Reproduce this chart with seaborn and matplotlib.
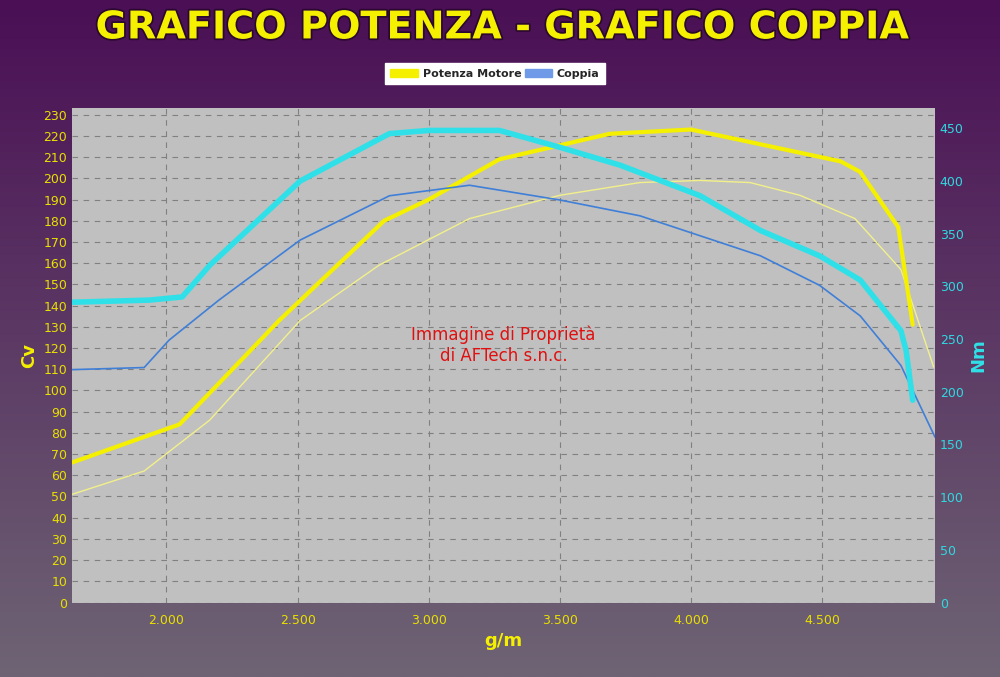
import numpy as np
import pandas as pd
import matplotlib
matplotlib.use("Agg")
import matplotlib.pyplot as plt
import matplotlib.patheffects as pe
import seaborn as sns
from matplotlib.patches import Patch

# power (Cv) - after / before
pw_rpm = [1640, 2050, 2430, 2830, 3000, 3270, 3690, 4000, 4570, 4645, 4790, 4845]
pw_cv = [66, 84, 133, 180, 190, 209, 221, 223, 208, 203, 177, 131]
pw0_rpm = [1640, 1915, 2165, 2510, 2810, 3155, 3500, 3805, 4035, 4225, 4415, 4625, 4800, 4925]
pw0_cv = [51, 62, 86, 133, 159, 181, 192, 198, 199, 198, 192, 181, 157, 111]
# torque (Nm) - after / before
tq_rpm = [1640, 1935, 2060, 2165, 2510, 2850, 3000, 3270, 3500, 3730, 4035, 4265, 4490, 4645, 4800, 4820, 4845]
tq_nm = [285, 287, 290, 320, 400, 445, 448, 448, 432, 415, 386, 353, 329, 306, 258, 239, 192]
tq0_rpm = [1640, 1915, 2010, 2200, 2510, 2850, 3155, 3500, 3805, 4035, 4265, 4490, 4645, 4800, 4930]
tq0_nm = [221, 223, 249, 287, 344, 386, 396, 382, 367, 348, 329, 301, 272, 225, 157]

sns.set_style("white")
fig = plt.figure(figsize=(10, 6.77), dpi=100)
bg = fig.add_axes([0, 0, 1, 1], zorder=-10)
grad = np.linspace(0, 1, 256)[:, None]
cmap = matplotlib.colors.LinearSegmentedColormap.from_list("bg", ["#4a0f55", "#6e6474"])
bg.imshow(grad, aspect="auto", cmap=cmap, extent=[0, 1, 0, 1], origin="upper")
bg.axis("off")

ax = fig.add_axes([0.072, 0.11, 0.863, 0.73])
ax.set_facecolor("#c0c0c0")
ax2 = ax.twinx()

sns.lineplot(x=pw0_rpm, y=pw0_cv, ax=ax, color="#f2f08a", lw=1)
sns.lineplot(x=pw_rpm, y=pw_cv, ax=ax, color="#f5f000", lw=3)
sns.lineplot(x=tq0_rpm, y=tq0_nm, ax=ax2, color="#3f7fd8", lw=1.2)
sns.lineplot(x=tq_rpm, y=tq_nm, ax=ax2, color="#30e0e8", lw=4)

ax.set_xlim(1640, 4930)
ax.set_ylim(0, 233)
ax2.set_ylim(0, 469)
ax.set_yticks(range(0, 231, 10))
ax2.set_yticks(range(0, 451, 50))
ax.set_xticks([2000, 2500, 3000, 3500, 4000, 4500])
ax.set_xticklabels(["2.000", "2.500", "3.000", "3.500", "4.000", "4.500"])
ax.grid(True, color="#808080", ls=(0, (5, 5)), lw=0.8)
ax.tick_params(axis="both", colors="#e8e000", labelsize=9, length=0)
ax.tick_params(axis="x", pad=8)
ax2.tick_params(axis="y", colors="#30d8e0", labelsize=9, length=0)
for s in list(ax.spines.values()) + list(ax2.spines.values()):
    s.set_visible(False)

ax.set_xlabel("g/m", color="#f5f000", fontsize=13, fontweight="bold")
ax.set_ylabel("Cv", color="#f5f000", fontsize=13, fontweight="bold")
ax2.set_ylabel("Nm", color="#30e0e8", fontsize=13, fontweight="bold")

ax.text(0.5, 0.52, "Immagine di Proprietà\ndi AFTech s.n.c.", transform=ax.transAxes,
        ha="center", va="center", color="#e01010", fontsize=12)

fig.text(0.503, 0.958, "GRAFICO POTENZA - GRAFICO COPPIA", ha="center", va="center",
         color="#f5f000", fontsize=27.5, fontweight="bold",
         path_effects=[pe.withStroke(linewidth=2.5, foreground="#2a0830")])
handles = [Patch(color="#f5f000", label="Potenza Motore"), Patch(color="#6f9ae8", label="Coppia")]
leg = fig.legend(handles=handles, loc="center", bbox_to_anchor=(0.495, 0.891), ncol=2,
                 frameon=True, fancybox=False, prop={"weight": "bold", "size": 8},
                 handlelength=2.5, handletextpad=0.4, columnspacing=0.3, borderpad=0.5,
                 borderaxespad=0)
leg.get_frame().set_edgecolor("#ffffff")
leg.get_frame().set_facecolor("#ffffff")
leg.get_frame().set_alpha(1)
# widen legend box to the right like the reference
leg._legend_box.align = "left"

fig.savefig("out.png", dpi=100)
